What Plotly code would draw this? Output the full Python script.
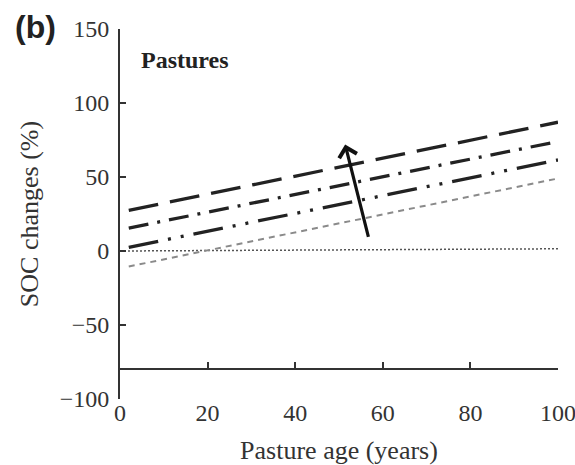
import plotly.graph_objects as go

# Data
age = [2, 100]
line_a = [27.5, 87]     # long dash
line_b = [15.5, 74]     # dash-dot
line_c = [2.5, 61.5]    # dash-dot-dot
line_d = [-10.5, 49]    # short dash (grey)
base_x = [0, 100]
base_y = [0, 1.5]       # dotted reference line

arrow_tail = (56.8, 8.5)
arrow_head = (51.4, 72)

x_ticks = [0, 20, 40, 60, 80, 100]
y_ticks = [-100, -50, 0, 50, 100, 150]

fig = go.Figure()
fig.add_trace(go.Scatter(x=base_x, y=base_y, mode="lines",
                         line=dict(color="#555555", width=1.5, dash="2px,2px")))
fig.add_trace(go.Scatter(x=age, y=line_d, mode="lines",
                         line=dict(color="#8a8a8a", width=2, dash="6px,5px")))
fig.add_trace(go.Scatter(x=age, y=line_c, mode="lines",
                         line=dict(color="#222222", width=3.3, dash="30px,10px,3px,10px,3px,10px")))
fig.add_trace(go.Scatter(x=age, y=line_b, mode="lines",
                         line=dict(color="#222222", width=3.3, dash="20px,9px,3px,9px")))
fig.add_trace(go.Scatter(x=age, y=line_a, mode="lines",
                         line=dict(color="#222222", width=3.3, dash="30px,12px")))

fig.add_annotation(x=arrow_head[0], y=arrow_head[1], ax=arrow_tail[0], ay=arrow_tail[1],
                   xref="x", yref="y", axref="x", ayref="y", text="",
                   showarrow=True, arrowhead=4, arrowsize=1.1, arrowwidth=3.2,
                   arrowcolor="#111111")

fig.add_annotation(x=0.043, y=0.915, xref="paper", yref="paper", text="<b>Pastures</b>",
                   showarrow=False, xanchor="left", yanchor="middle",
                   font=dict(family="Liberation Serif", size=24, color="#222222"))
fig.add_annotation(x=-0.245, y=1.005, xref="paper", yref="paper", text="<b>(b)</b>",
                   showarrow=False, xanchor="left", yanchor="middle",
                   font=dict(family="Liberation Sans", size=32, color="#222222"))

fig.update_layout(
    width=575, height=465,
    margin=dict(l=120, r=17, t=29, b=66),
    plot_bgcolor="white", paper_bgcolor="white",
    showlegend=False,
    font=dict(family="Liberation Serif", size=24, color="#333333"),
    xaxis=dict(range=[0, 100], tickvals=x_ticks, showgrid=False, zeroline=False,
               showline=True, linecolor="#333333", linewidth=2,
               ticks="inside", ticklen=6, tickwidth=1.5, tickcolor="#333333",
               anchor="free", position=0.08, ticklabelstandoff=22,
               ticklabeloverflow="allow", automargin=False,
               title=dict(text="Pasture age (years)", standoff=20,
                          font=dict(size=26, color="#333333"))),
    yaxis=dict(range=[-100, 150], tickvals=y_ticks,
               ticktext=["\u2212100", "\u221250", "0", "50", "100", "150"],
               showgrid=False, zeroline=False, automargin=False,
               showline=True, linecolor="#333333", linewidth=2,
               ticks="inside", ticklen=6, tickwidth=1.5, tickcolor="#333333",
               ticklabelstandoff=4,
               title=dict(text="SOC changes (%)", standoff=14,
                          font=dict(size=26, color="#333333"))),
)

fig.write_html("out.html")
